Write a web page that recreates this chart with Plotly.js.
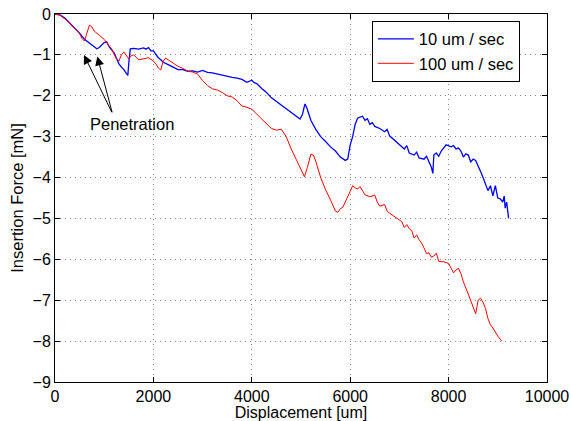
<!DOCTYPE html>
<html>
<head>
<meta charset="utf-8">
<script src="https://cdn.plot.ly/plotly-3.0.1.min.js"></script>
<style>html,body{margin:0;padding:0;background:#fff;}#chart{width:571px;height:421px;}</style>
</head>
<body>
<div id="chart"></div>
<script>
// Displacement [um] and insertion force [mN]
const blueX = [0,100,200,300,400,500,600,700,800,850,900,1000,1050,1100,1200,1250,1300,1350,1400,1450,1480,1500,1530,1600,1700,1800,1850,1900,1950,2000,2050,2100,2150,2200,2300,2400,2500,2600,2700,2800,2900,3000,3100,3200,3300,3400,3500,3600,3700,3800,3900,4000,4050,4100,4200,4300,4400,4500,4600,4700,4800,4900,4980,5030,5080,5120,5200,5300,5400,5500,5600,5700,5800,5900,5950,6000,6050,6100,6150,6200,6250,6300,6350,6400,6450,6500,6600,6700,6750,6800,6900,7000,7100,7150,7200,7300,7350,7400,7500,7550,7600,7650,7680,7700,7750,7800,7850,7950,8050,8100,8150,8200,8250,8300,8350,8400,8450,8500,8550,8600,8650,8700,8750,8800,8850,8900,8950,9000,9050,9100,9130,9150,9180,9200,9220];
const blueY = [0,-0.02,-0.1,-0.22,-0.35,-0.47,-0.62,-0.72,-0.82,-0.85,-0.82,-0.7,-0.68,-0.8,-0.95,-1.1,-1.22,-1.3,-1.36,-1.45,-1.5,-1.2,-0.85,-0.84,-0.86,-0.83,-0.86,-0.82,-0.9,-0.9,-1.0,-1.07,-1.12,-1.18,-1.24,-1.3,-1.36,-1.36,-1.4,-1.39,-1.42,-1.38,-1.43,-1.44,-1.47,-1.5,-1.52,-1.55,-1.57,-1.6,-1.67,-1.62,-1.68,-1.7,-1.82,-1.92,-2.05,-2.14,-2.22,-2.33,-2.42,-2.5,-2.57,-2.45,-2.2,-2.3,-2.6,-2.82,-3.0,-3.12,-3.25,-3.35,-3.5,-3.58,-3.55,-3.2,-3.0,-2.7,-2.55,-2.52,-2.5,-2.6,-2.56,-2.7,-2.66,-2.75,-2.8,-2.88,-2.82,-2.98,-3.08,-3.2,-3.3,-3.22,-3.4,-3.45,-3.38,-3.52,-3.55,-3.48,-3.62,-3.75,-3.9,-3.45,-3.4,-3.48,-3.35,-3.2,-3.25,-3.22,-3.3,-3.28,-3.35,-3.5,-3.42,-3.45,-3.62,-3.55,-3.58,-3.7,-3.85,-4.0,-4.15,-4.32,-4.2,-4.45,-4.2,-4.5,-4.52,-4.6,-4.45,-4.75,-4.6,-4.9,-5.0];
const redX = [0,100,200,300,400,500,550,600,640,700,750,800,900,1000,1100,1150,1200,1250,1300,1350,1400,1450,1500,1550,1600,1700,1800,1900,2000,2050,2100,2150,2200,2250,2300,2400,2500,2600,2700,2800,2900,3000,3100,3200,3300,3400,3500,3600,3700,3800,3900,4000,4100,4200,4300,4400,4500,4600,4700,4800,4900,5000,5070,5130,5200,5250,5300,5400,5500,5600,5700,5750,5800,5850,5900,6000,6050,6100,6150,6200,6300,6400,6500,6550,6600,6700,6750,6800,6900,7000,7050,7100,7150,7200,7250,7300,7350,7400,7450,7500,7550,7600,7650,7700,7750,7800,7900,8000,8050,8100,8150,8200,8250,8300,8400,8500,8550,8600,8650,8700,8750,8800,8850,8900,8950,9000,9080];
const redY = [0,-0.03,-0.12,-0.22,-0.35,-0.48,-0.6,-0.66,-0.5,-0.27,-0.32,-0.42,-0.52,-0.62,-0.78,-0.85,-0.98,-1.1,-1.15,-1.0,-0.93,-1.02,-1.1,-1.02,-1.0,-1.12,-1.1,-1.07,-1.15,-1.22,-1.32,-1.37,-1.15,-1.08,-1.12,-1.2,-1.28,-1.33,-1.4,-1.42,-1.47,-1.63,-1.75,-1.83,-1.86,-1.92,-2.0,-2.03,-2.12,-2.25,-2.28,-2.33,-2.45,-2.55,-2.68,-2.8,-2.84,-2.82,-3.0,-3.3,-3.55,-3.78,-3.98,-3.75,-3.43,-3.45,-3.6,-4.0,-4.3,-4.55,-4.82,-4.85,-4.76,-4.73,-4.6,-4.35,-4.2,-4.25,-4.28,-4.22,-4.42,-4.47,-4.43,-4.6,-4.7,-4.66,-4.82,-4.87,-4.95,-5.05,-5.08,-5.22,-5.15,-5.25,-5.3,-5.48,-5.4,-5.52,-5.6,-5.72,-5.86,-5.84,-5.95,-5.92,-5.85,-6.05,-6.06,-6.1,-6.22,-6.33,-6.26,-6.22,-6.35,-6.55,-6.85,-7.2,-7.33,-7.0,-6.95,-7.05,-7.2,-7.45,-7.6,-7.68,-7.8,-7.88,-8.0];
const seriesNames = ["10 um / sec", "100 um / sec"];
const xTicks = [0,2000,4000,6000,8000,10000];
const yTicks = [0,-1,-2,-3,-4,-5,-6,-7,-8,-9];
const annotationText = "Penetration";
const arrowTips = [[589,-1.0],[860,-1.04]];
const arrowTail = [1169,-2.44];

const font = {family: "Liberation Sans, Arial, Helvetica, sans-serif", size: 16.5, color: "#000"};
const tickFont = {family: "Liberation Sans, Arial, Helvetica, sans-serif", size: 16, color: "#000"};

const traces = [
  {x: blueX, y: blueY, name: seriesNames[0], type: "scatter", mode: "lines", line: {color: "#0000ff", width: 1.3}},
  {x: redX, y: redY, name: seriesNames[1], type: "scatter", mode: "lines", line: {color: "#ff0000", width: 1}}
];

const axisCommon = {
  showline: true, linecolor: "#000", linewidth: 1, mirror: "ticks",
  ticks: "inside", ticklen: 5, tickcolor: "#000",
  showgrid: true, gridcolor: "#888888", griddash: "1px,4px", gridwidth: 1,
  zeroline: false, tickfont: tickFont
};

const annotations = arrowTips.map(t => ({
  x: t[0], y: t[1], xref: "x", yref: "y",
  ax: arrowTail[0], ay: arrowTail[1], axref: "x", ayref: "y",
  text: "", showarrow: true, arrowhead: 2, arrowsize: 1.8, arrowwidth: 1, arrowcolor: "#000"
}));
annotations.push({x: arrowTail[0], y: arrowTail[1], xref: "x", yref: "y", text: annotationText,
  showarrow: false, yanchor: "top", yshift: 1, xshift: 19, font: font});

const layout = {
  width: 571, height: 421,
  margin: {l: 55, r: 24, t: 14, b: 39},
  paper_bgcolor: "#fff", plot_bgcolor: "#fff",
  font: font,
  showlegend: true,
  legend: {x: 0.644, y: 0.982, xanchor: "left", yanchor: "top", bgcolor: "#fff",
    bordercolor: "#000", borderwidth: 1, font: font, tracegroupgap: 0, itemwidth: 36},
  xaxis: Object.assign({}, axisCommon, {range: [0, 10000], tickvals: xTicks, ticktext: xTicks.map(String),
    title: {text: "Displacement [um]", font: {family: font.family, size: 16, color: "#000"}, standoff: 4}}),
  yaxis: Object.assign({}, axisCommon, {range: [-9, 0], tickvals: yTicks,
    title: {text: "Insertion Force [mN]", font: font, standoff: 4}}),
  annotations: annotations
};

Plotly.newPlot("chart", traces, layout, {displayModeBar: false, staticPlot: true});
</script>
</body>
</html>
